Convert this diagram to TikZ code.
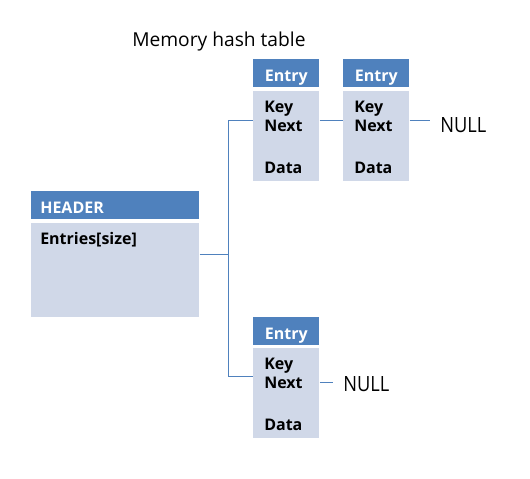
\documentclass[tikz,border=0pt]{standalone}
\usepackage{fontspec}
\setmainfont{Open Sans}
\newfontfamily\endmarkfont[FakeStretch=0.87]{Open Sans}
\definecolor{barblue}{RGB}{79,129,189}
\definecolor{cellblue}{RGB}{208,216,232}
\tikzset{
  bar/.style={fill=barblue, text=white, font=\bfseries\fontsize{12}{14}\selectfont, inner sep=0pt, minimum height=21pt, text height=17pt, text depth=4pt, anchor=north west},
  cell/.style={fill=cellblue, inner sep=0pt, anchor=north west},
  field/.style={font=\bfseries\fontsize{12}{14}\selectfont, inner sep=0pt, anchor=base west},
  link/.style={draw=barblue, line width=0.75pt},
  nulltext/.style={font=\endmarkfont\fontsize{15.75}{18}\selectfont, inner ysep=0pt, inner xsep=7.5pt, anchor=base west}
}
\begin{document}
\begin{tikzpicture}[x=0.75pt,y=0.75pt,yscale=-1,xscale=1]
\useasboundingbox (0,0) rectangle (530,478);

% Title
\node[anchor=base west, inner sep=0pt, font=\fontsize{14.4}{17}\selectfont] (title) at (132,46) {Memory hash table};

% Header block
\node[bar, minimum width=126pt, text width=112.5pt, inner xsep=6.75pt, align=left] (hbar) at (31,191) {HEADER};
\node[cell, minimum width=126pt, minimum height=70.5pt] (hcell) at (31,223) {};
\node[field] (entries) at (40,244) {Entries[size]};

% Entry 1
\node[bar, minimum width=49.5pt] (ebar1) at (253,59) {Entry};
\node[cell, minimum width=49.5pt, minimum height=67.5pt] (ecell1) at (253,91) {};
\node[field] (key1) at (264,112) {Key};
\node[field] (next1) at (264,131) {Next};
\node[field] (data1) at (264,173) {Data};

% Entry 2
\node[bar, minimum width=49.5pt] (ebar2) at (343,59) {Entry};
\node[cell, minimum width=49.5pt, minimum height=67.5pt] (ecell2) at (343,91) {};
\node[field] (key2) at (354,112) {Key};
\node[field] (next2) at (354,131) {Next};
\node[field] (data2) at (354,173) {Data};

% Entry 3
\node[bar, minimum width=49.5pt] (ebar3) at (253,317) {Entry};
\node[cell, minimum width=49.5pt, minimum height=67.5pt] (ecell3) at (253,348) {};
\node[field] (key3) at (264,369) {Key};
\node[field] (next3) at (264,388) {Next};
\node[field] (data3) at (264,430) {Data};

% NULL ends
\node[nulltext] (null1) at (430,132) {NULL};
\node[nulltext] (null2) at (333,391) {NULL};

% Links
\coordinate (fork) at (228,254);
\coordinate (row1) at (0,120);
\coordinate (row3) at (0,376);
\coordinate (row3n) at (0,382);
\draw[link] (hcell.east |- fork) -- (fork);
\draw[link] (fork) |- (ecell1.west |- row1);
\draw[link] (fork) |- (ecell3.west |- row3);
\draw[link] (ecell1.east |- row1) -- (ecell2.west |- row1);
\draw[link] (ecell2.east |- row1) -- (null1.west |- row1);
\draw[link] (ecell3.east |- row3n) -- (null2.west |- row3n);

\end{tikzpicture}
\end{document}
